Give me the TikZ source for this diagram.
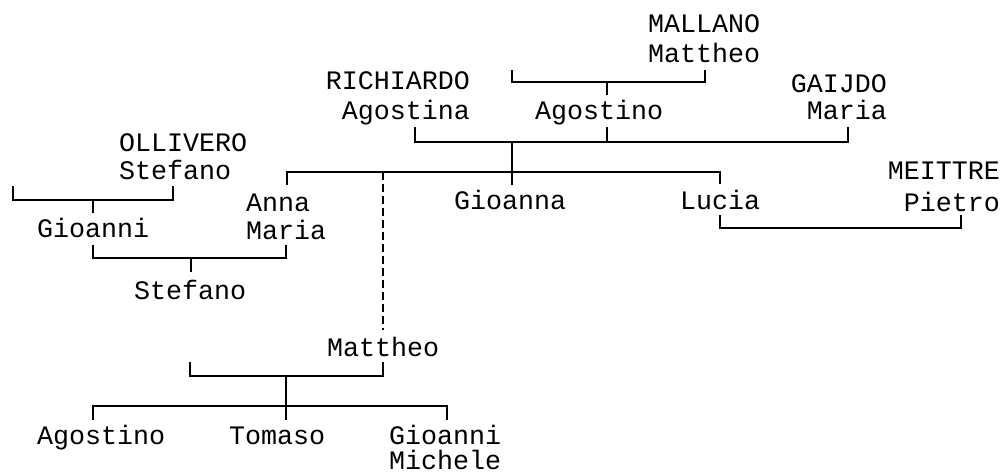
\documentclass[tikz,border=0pt]{standalone}
\usepackage{fontspec}
\newfontfamily\treefont{Liberation Mono}
\begin{document}
\begin{tikzpicture}[x=1pt,y=-1pt,
  lbl/.style={font=\treefont\fontsize{26.67}{30}\selectfont, inner sep=0pt, outer sep=0pt},
  link/.style={line width=1.7pt},
  dashlink/.style={line width=1.5pt, dash pattern=on 8pt off 4pt}]
\useasboundingbox (0,0) rectangle (1003,474);
% persons
\node[lbl, anchor=base west] (mallano) at (648,32) {MALLANO};
\node[lbl, anchor=base west] (mallanoN) at (648,62) {Mattheo};
\node[lbl, anchor=base east] (richiardo) at (470,89) {RICHIARDO};
\node[lbl, anchor=base east] (richiardoN) at (470,119) {Agostina};
\node[lbl, anchor=base west] (agostinoA) at (535,119) {Agostino};
\node[lbl, anchor=base east] (gaijdo) at (887,92) {GAIJDO};
\node[lbl, anchor=base east] (gaijdoN) at (887,119) {Maria};
\node[lbl, anchor=base west] (ollivero) at (119,151) {OLLIVERO};
\node[lbl, anchor=base west] (olliveroN) at (119,179) {Stefano};
\node[lbl, anchor=base west] (anna) at (246,211) {Anna};
\node[lbl, anchor=base west] (annaN) at (246,239) {Maria};
\node[lbl, anchor=base west] (gioanna) at (454,209) {Gioanna};
\node[lbl, anchor=base west] (lucia) at (680,209) {Lucia};
\node[lbl, anchor=base east] (meittre) at (1000,179) {MEITTRE};
\node[lbl, anchor=base east] (meittreN) at (1000,211) {Pietro};
\node[lbl, anchor=base west] (gioanniA) at (37,237) {Gioanni};
\node[lbl, anchor=base west] (stefano) at (134,299) {Stefano};
\node[lbl, anchor=base west] (mattheo) at (327,356) {Mattheo};
\node[lbl, anchor=base west] (agostinoB) at (37,444) {Agostino};
\node[lbl, anchor=base west] (tomaso) at (229,444) {Tomaso};
\node[lbl, anchor=base west] (gioanniB) at (389,444) {Gioanni};
\node[lbl, anchor=base west] (gioanniBN) at (389,469) {Michele};
% bracket points
\coordinate (b1a) at (512,70);  \coordinate (b1b) at (512,82);
\coordinate (b1c) at (705,82);  \coordinate (b1d) at (705,70);
\coordinate (b1t) at (607,82);  \coordinate (b1u) at (607,95);
\coordinate (b2a) at (415,127); \coordinate (b2b) at (415,142);
\coordinate (b2c) at (848,142); \coordinate (b2d) at (848,127);
\coordinate (b2e) at (607,127); \coordinate (b2f) at (607,142);
\coordinate (b2t) at (512,142);
\coordinate (c1a) at (287,185); \coordinate (c1b) at (287,172);
\coordinate (c1c) at (720,172); \coordinate (c1d) at (720,184);
\coordinate (c1g) at (512,185);
\coordinate (d1) at (383,172);  \coordinate (d2) at (383,330);
\coordinate (b3a) at (13,186);  \coordinate (b3b) at (13,200);
\coordinate (b3c) at (173,200); \coordinate (b3d) at (173,186);
\coordinate (b3t) at (93,200);  \coordinate (b3u) at (93,213);
\coordinate (b4a) at (720,215); \coordinate (b4b) at (720,228);
\coordinate (b4c) at (961,228); \coordinate (b4d) at (961,215);
\coordinate (b5a) at (93,245);  \coordinate (b5b) at (93,258);
\coordinate (b5c) at (286,258); \coordinate (b5d) at (286,245);
\coordinate (b5t) at (191,258); \coordinate (b5u) at (191,272);
\coordinate (b6a) at (190,362); \coordinate (b6b) at (190,376);
\coordinate (b6c) at (383,376); \coordinate (b6d) at (383,362);
\coordinate (b6t) at (286,376);
\coordinate (c2a) at (93,420);  \coordinate (c2b) at (93,406);
\coordinate (c2c) at (447,406); \coordinate (c2d) at (447,420);
\coordinate (c2t) at (286,420);
% connectors
\draw[link] (b1a) -- (b1b) -- (b1c) -- (b1d);
\draw[link] (b1t) -- (b1u);
\draw[link] (b2a) -- (b2b) -- (b2c) -- (b2d);
\draw[link] (b2e) -- (b2f);
\draw[link] (b2t) -- (c1g);
\draw[link] (c1a) -- (c1b) -- (c1c) -- (c1d);
\draw[dashlink] (d1) -- (d2);
\draw[link] (b3a) -- (b3b) -- (b3c) -- (b3d);
\draw[link] (b3t) -- (b3u);
\draw[link] (b4a) -- (b4b) -- (b4c) -- (b4d);
\draw[link] (b5a) -- (b5b) -- (b5c) -- (b5d);
\draw[link] (b5t) -- (b5u);
\draw[link] (b6a) -- (b6b) -- (b6c) -- (b6d);
\draw[link] (b6t) -- (c2t);
\draw[link] (c2a) -- (c2b) -- (c2c) -- (c2d);
\end{tikzpicture}
\end{document}
